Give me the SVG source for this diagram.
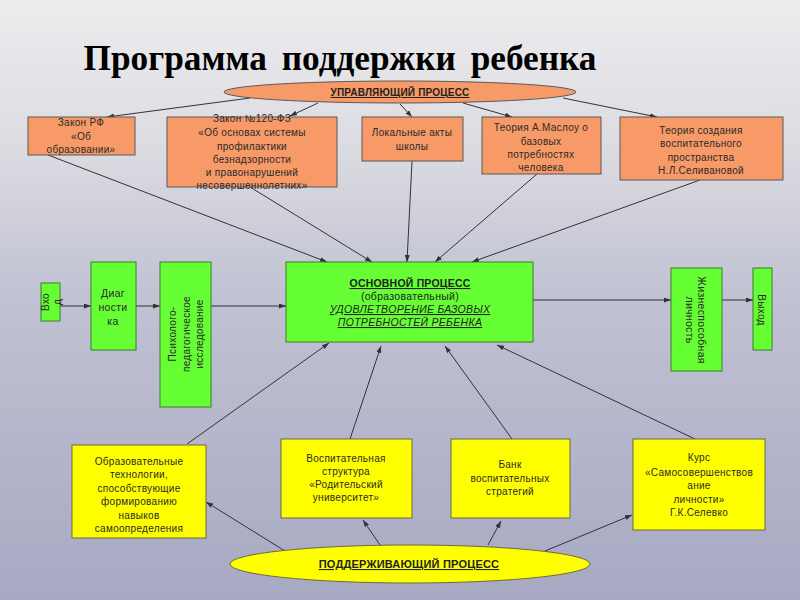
<svg xmlns="http://www.w3.org/2000/svg" width="800" height="600" viewBox="0 0 800 600">
<defs>
<linearGradient id="bg" x1="0" y1="0" x2="0" y2="1">
<stop offset="0" stop-color="#ededef"/>
<stop offset="0.27" stop-color="#d9d9e0"/>
<stop offset="0.5" stop-color="#c0c1d2"/>
<stop offset="1" stop-color="#a7a9c3"/>
</linearGradient>
<marker id="a" markerWidth="7" markerHeight="5" refX="7" refY="2.5" orient="auto" markerUnits="userSpaceOnUse">
<path d="M0,0 L7,2.5 L0,5 z" fill="#333"/>
</marker>
<style>
.org{fill:#f79a68;stroke:#5a5a5a;stroke-width:1}
.grn{fill:#66ff33;stroke:#3d7a2c;stroke-width:1}
.yel{fill:#ffff00;stroke:#6b6b3a;stroke-width:1}
.t{font-family:"Liberation Sans",Arial,sans-serif;font-size:10px;fill:#2a2a2a;text-anchor:middle;letter-spacing:0.3px}
.b{font-weight:bold;text-decoration:underline;font-size:10.5px;fill:#222;letter-spacing:0.2px}
.i{font-style:italic;text-decoration:underline}
.ln{stroke:#333;stroke-width:1;fill:none;marker-end:url(#a)}
</style>
</defs>
<rect width="800" height="600" fill="url(#bg)"/>
<text x="340" y="70" font-family="'Liberation Serif','Times New Roman',serif" font-size="35" font-weight="bold" text-anchor="middle" fill="#000" textLength="513" lengthAdjust="spacingAndGlyphs" word-spacing="6">Программа поддержки ребенка</text>

<g id="connectors">
<line class="ln" x1="250" y1="98" x2="107" y2="117"/>
<line class="ln" x1="318" y1="103" x2="290" y2="116"/>
<line class="ln" x1="400" y1="104" x2="412" y2="117"/>
<line class="ln" x1="463" y1="103" x2="512" y2="117"/>
<line class="ln" x1="563" y1="98" x2="657" y2="117"/>
<line class="ln" x1="48" y1="155" x2="327" y2="262"/>
<line class="ln" x1="250" y1="187" x2="372" y2="262"/>
<line class="ln" x1="412" y1="161" x2="407" y2="262"/>
<line class="ln" x1="537" y1="174" x2="435" y2="262"/>
<line class="ln" x1="700" y1="180" x2="472" y2="262"/>
<line class="ln" x1="60" y1="306" x2="91" y2="306"/>
<line class="ln" x1="136" y1="306" x2="160" y2="306"/>
<line class="ln" x1="211" y1="306" x2="286" y2="306"/>
<line class="ln" x1="533" y1="300" x2="671" y2="300"/>
<line class="ln" x1="722" y1="300" x2="753" y2="300"/>
<line class="ln" x1="187" y1="444" x2="329" y2="343"/>
<line class="ln" x1="350" y1="439" x2="381" y2="346"/>
<line class="ln" x1="512" y1="439" x2="445" y2="346"/>
<line class="ln" x1="695" y1="439" x2="497" y2="345"/>
<line class="ln" x1="285" y1="551" x2="206" y2="502"/>
<line class="ln" x1="380" y1="545" x2="363" y2="520"/>
<line class="ln" x1="488" y1="545" x2="501" y2="521"/>
<line class="ln" x1="545" y1="551" x2="632" y2="515"/>
</g>

<g id="upr">
<ellipse class="org" cx="400" cy="92" rx="176" ry="11"/>
<text class="t b" x="400" y="96" style="font-size:10px">УПРАВЛЯЮЩИЙ ПРОЦЕСС</text>
</g>

<g id="zakon-rf">
<rect class="org" x="28" y="117" width="107" height="38"/>
<text class="t"><tspan x="81" y="126">Закон РФ</tspan><tspan x="81" y="140">«Об</tspan><tspan x="81" y="153">образовании»</tspan></text>
</g>

<g id="zakon-120">
<rect class="org" x="167" y="117" width="170" height="70"/>
<text class="t"><tspan x="252" y="122">Закон №120-ФЗ</tspan><tspan x="252" y="136">«Об основах системы</tspan><tspan x="252" y="150">профилактики</tspan><tspan x="252" y="163">безнадзорности</tspan><tspan x="252" y="176">и правонарушений</tspan><tspan x="252" y="189">несовершеннолетних»</tspan></text>
</g>

<g id="lokal">
<rect class="org" x="362" y="117" width="101" height="44"/>
<text class="t"><tspan x="412" y="136">Локальные акты</tspan><tspan x="412" y="150">школы</tspan></text>
</g>

<g id="maslou">
<rect class="org" x="482" y="117" width="119" height="57"/>
<text class="t"><tspan x="541" y="131">Теория А.Маслоу о</tspan><tspan x="541" y="145">базовых</tspan><tspan x="541" y="158">потребностях</tspan><tspan x="541" y="171">человека</tspan></text>
</g>

<g id="selivanova">
<rect class="org" x="620" y="117" width="163" height="63"/>
<text class="t"><tspan x="701" y="134">Теория создания</tspan><tspan x="701" y="147">воспитательного</tspan><tspan x="701" y="161">пространства</tspan><tspan x="701" y="174">Н.Л.Селивановой</tspan></text>
</g>

<g id="vhod">
<rect class="grn" x="41" y="283" width="19" height="38"/>
<text class="t" transform="translate(49,302) rotate(-90)"><tspan x="0" y="0">Вхо</tspan><tspan x="0" y="12">д</tspan></text>
</g>

<g id="diag">
<rect class="grn" x="91" y="262" width="45" height="88"/>
<text class="t" style="font-size:10.5px"><tspan x="113" y="297">Диаг</tspan><tspan x="113" y="311">ности</tspan><tspan x="113" y="325">ка</tspan></text>
</g>

<g id="psih">
<rect class="grn" x="160" y="262" width="51" height="145"/>
<text class="t" transform="translate(176,334) rotate(-90)"><tspan x="0" y="0">Психолого-</tspan><tspan x="0" y="14">педагогическое</tspan><tspan x="0" y="27">исследование</tspan></text>
</g>

<g id="main">
<rect class="grn" x="286" y="262" width="247" height="80"/>
<text class="t" style="fill:#222"><tspan class="b" x="410" y="287">ОСНОВНОЙ ПРОЦЕСС</tspan><tspan x="410" y="300" style="font-size:10.5px">(образовательный)</tspan><tspan class="i" x="410" y="313" style="font-size:10.5px">УДОВЛЕТВОРЕНИЕ БАЗОВЫХ</tspan><tspan class="i" x="410" y="326" style="font-size:10.5px">ПОТРЕБНОСТЕЙ РЕБЕНКА</tspan></text>
</g>

<g id="zhizn">
<rect class="grn" x="671" y="268" width="51" height="103"/>
<text class="t" style="font-size:10.5px" transform="translate(698,320) rotate(90)"><tspan x="0" y="0">Жизнеспособная</tspan><tspan x="0" y="12">личность</tspan></text>
</g>

<g id="vyhod">
<rect class="grn" x="753" y="268" width="19" height="82"/>
<text class="t" transform="translate(758,310) rotate(90)">Выход</text>
</g>

<g id="obr">
<rect class="yel" x="72" y="445" width="134" height="93"/>
<text class="t"><tspan x="139" y="465">Образовательные</tspan><tspan x="139" y="478">технологии,</tspan><tspan x="139" y="492">способствующие</tspan><tspan x="139" y="505">формированию</tspan><tspan x="139" y="519">навыков</tspan><tspan x="139" y="532">самоопределения</tspan></text>
</g>

<g id="vosp">
<rect class="yel" x="281" y="439" width="131" height="79"/>
<text class="t"><tspan x="346" y="462">Воспитательная</tspan><tspan x="346" y="475">структура</tspan><tspan x="346" y="488">«Родительский</tspan><tspan x="346" y="501">университет»</tspan></text>
</g>

<g id="bank">
<rect class="yel" x="451" y="439" width="119" height="79"/>
<text class="t"><tspan x="510" y="468">Банк</tspan><tspan x="510" y="482">воспитательных</tspan><tspan x="510" y="495">стратегий</tspan></text>
</g>

<g id="kurs">
<rect class="yel" x="633" y="439" width="132" height="91"/>
<text class="t"><tspan x="699" y="461">Курс</tspan><tspan x="699" y="476">«Самосовершенствов</tspan><tspan x="699" y="489">ание</tspan><tspan x="699" y="503">личности»</tspan><tspan x="699" y="516">Г.К.Селевко</tspan></text>
</g>

<g id="podd">
<ellipse class="yel" cx="410" cy="564" rx="180" ry="19"/>
<text class="t b" x="409" y="568" style="font-size:11px">ПОДДЕРЖИВАЮЩИЙ ПРОЦЕСС</text>
</g>
</svg>
